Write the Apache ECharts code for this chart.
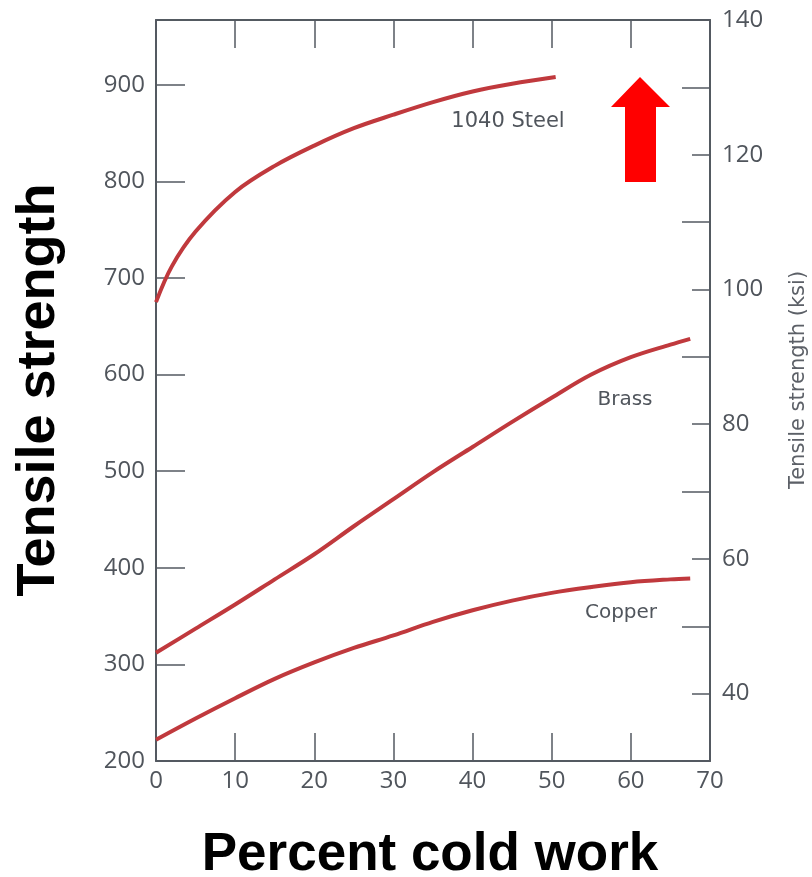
<!DOCTYPE html>
<html>
<head>
<meta charset="utf-8">
<script src="https://cdn.jsdelivr.net/npm/echarts@6/dist/echarts.min.js"></script>
<style>
html,body{margin:0;padding:0;background:#fff;}
#chart{width:812px;height:877px;}
</style>
</head>
<body>
<div id="chart"></div>
<script>
// Percent cold work (x) and tensile strength in MPa (y)
const steelX = [0, 2, 5, 10, 15, 20, 25, 30, 35, 40, 45, 50.5];
const steelY = [675, 712, 748, 789, 816, 837, 855, 869, 882, 893, 901, 908];
const brassX = [0, 5, 10, 15, 20, 25, 30, 35, 40, 45, 50, 55, 60, 65, 67.5];
const brassY = [312, 337, 362, 388, 414, 443, 471, 499, 525, 551, 576, 600, 618, 631, 637];
const copperX = [0, 5, 10, 15, 20, 25, 30, 35, 40, 45, 50, 55, 60, 65, 67.5];
const copperY = [222, 244, 265, 285, 302, 317, 330, 344, 356, 366, 374, 380, 385, 388, 389];
const seriesNames = ['1040 Steel', 'Brass', 'Copper'];
const xTickLabels = [0, 10, 20, 30, 40, 50, 60, 70];
const mpaTicks = [200, 300, 400, 500, 600, 700, 800, 900];
const ksiTicks = [40, 60, 80, 100, 120, 140];

const pairs = (xs, ys) => xs.map((x, i) => [x, ys[i]]);

const axisColor = '#545a61';
const labelColor = '#50555c';
const lineColor = '#c0393d';

const chart = echarts.init(document.getElementById('chart'));

const baseX = {
  type: 'value', min: 0, max: 70, interval: 10,
  axisLine: {show: true, onZero: false, lineStyle: {color: axisColor, width: 2}},
  axisTick: {show: true, inside: true, length: 28, lineStyle: {color: axisColor, width: 1.5}},
  splitLine: {show: false}
};

const lineSeries = (name, xs, ys) => ({
  name: name, type: 'line', xAxisIndex: 0, yAxisIndex: 0,
  data: pairs(xs, ys), smooth: 0.35,
  showSymbol: false, symbol: 'none',
  lineStyle: {color: lineColor, width: 4}, z: 3
});

chart.setOption({
  backgroundColor: '#ffffff',
  animation: false,
  grid: {left: 156, right: 102, top: 20, bottom: 116, containLabel: false},
  xAxis: [
    Object.assign({}, baseX, {
      position: 'bottom',
      axisLabel: {
        show: true, margin: 8, fontSize: 24, fontFamily: 'Open Sans', color: labelColor,
        formatter: v => xTickLabels.indexOf(v) >= 0 ? String(v) : ''
      }
    }),
    Object.assign({}, baseX, {position: 'top', axisLabel: {show: false}})
  ],
  yAxis: [
    {
      type: 'value', position: 'left', min: 200, max: 967, interval: 100,
      axisLine: {show: true, onZero: false, lineStyle: {color: axisColor, width: 2}},
      axisTick: {show: true, inside: true, length: 29, lineStyle: {color: axisColor, width: 1.5}},
      axisLabel: {
        show: true, margin: 11, fontSize: 24, fontFamily: 'Open Sans', color: labelColor,
        showMaxLabel: false,
        formatter: v => mpaTicks.indexOf(v) >= 0 ? String(v) : ''
      },
      splitLine: {show: false}
    },
    {
      type: 'value', position: 'right', min: 30, max: 140, splitNumber: 5,
      axisLine: {show: true, onZero: false, lineStyle: {color: axisColor, width: 2}},
      axisTick: {show: true, inside: true, length: 18, lineStyle: {color: axisColor, width: 1.5}},
      axisLabel: {
        show: true, margin: 12, fontSize: 24, fontFamily: 'Open Sans', color: labelColor,
        showMinLabel: false,
        formatter: v => ksiTicks.indexOf(v) >= 0 ? String(v) : ''
      },
      splitLine: {show: false}
    },
    {
      type: 'value', position: 'right', min: 30, max: 140, interval: 20,
      axisLine: {show: false, onZero: false},
      axisTick: {show: true, inside: true, length: 28, lineStyle: {color: axisColor, width: 1.5}},
      axisLabel: {show: false},
      splitLine: {show: false}
    }
  ],
  series: [
    lineSeries(seriesNames[0], steelX, steelY),
    lineSeries(seriesNames[1], brassX, brassY),
    lineSeries(seriesNames[2], copperX, copperY)
  ],
  graphic: [
    {type: 'text', x: 508, y: 122, style: {text: seriesNames[0], fontSize: 21, fontFamily: 'DejaVu Sans', fill: labelColor, align: 'center', verticalAlign: 'middle'}},
    {type: 'text', x: 625, y: 400, style: {text: seriesNames[1], fontSize: 20, fontFamily: 'DejaVu Sans', fill: labelColor, align: 'center', verticalAlign: 'middle'}},
    {type: 'text', x: 621, y: 613, style: {text: seriesNames[2], fontSize: 20, fontFamily: 'DejaVu Sans', fill: labelColor, align: 'center', verticalAlign: 'middle'}},
    {type: 'text', x: 799, y: 380, rotation: Math.PI / 2, style: {text: 'Tensile strength (ksi)', fontSize: 21, fontFamily: 'DejaVu Sans', fill: '#5c6067', align: 'center', verticalAlign: 'middle'}},
    {type: 'text', x: 39, y: 390, rotation: Math.PI / 2, style: {text: 'Tensile strength', fontSize: 54, fontWeight: 'bold', fontFamily: 'Liberation Sans', fill: '#000000', align: 'center', verticalAlign: 'middle'}},
    {type: 'text', x: 430, y: 855, style: {text: 'Percent cold work', fontSize: 53, fontWeight: 'bold', fontFamily: 'Liberation Sans', fill: '#000000', align: 'center', verticalAlign: 'middle'}},
    {type: 'polygon', shape: {points: [[640, 77], [670, 107], [656, 107], [656, 182], [625, 182], [625, 107], [611, 107]]}, style: {fill: '#ff0000'}}
  ]
});
</script>
</body>
</html>
